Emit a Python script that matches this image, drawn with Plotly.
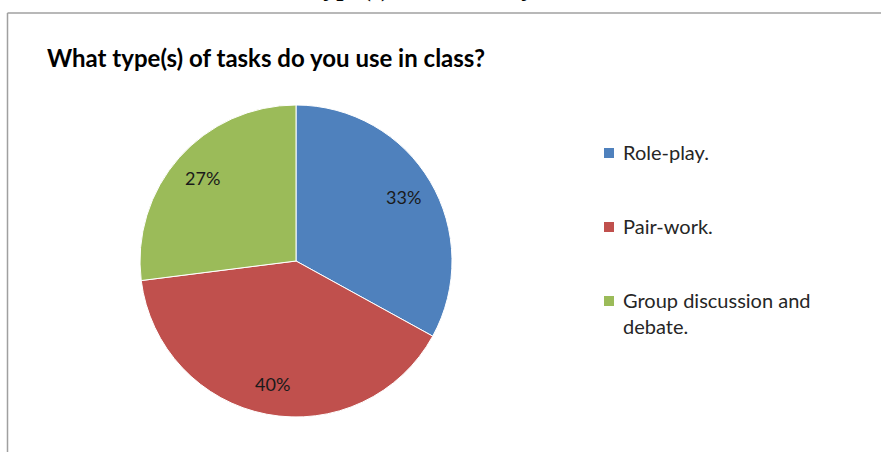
import math
import plotly.graph_objects as go

labels = ["Role-play.", "Pair-work.", "Group discussion and<br>debate."]
values = [33, 40, 27]
colors = ["#4F81BD", "#C0504D", "#9BBB59"]
title_text = "What type(s) of tasks do you use in class?"
caption_text = "What type(s) of tasks do you use in class?"

W, H = 881, 452
cx, cy, r = 296, 261, 156

fig = go.Figure()
fig.add_trace(go.Pie(
    labels=labels, values=values, sort=False, direction="clockwise", rotation=0,
    marker=dict(colors=colors, line=dict(color="white", width=1)),
    textinfo="none",
    domain=dict(x=[(cx - r) / W, (cx + r) / W], y=[(H - cy - r) / H, (H - cy + r) / H]),
    showlegend=False, hoverinfo="label+percent",
))

# data labels: placed at each slice's mid-angle, computed from the values
total = sum(values)
cum = 0
for v in values:
    mid = (cum + v / 2) / total * 2 * math.pi
    cum += v
    lx = cx + 0.8 * r * math.sin(mid)
    ly = cy - 0.8 * r * math.cos(mid)
    fig.add_annotation(text=f"{round(v / total * 100)}%", xref="paper", yref="paper",
                       x=lx / W, y=(H - ly) / H, xanchor="center", yanchor="middle",
                       showarrow=False, font=dict(family="Lato", size=18, color="#1a1a1a"))

# legend built from labels/colors
leg_y = [153, 227, 301]
for lab, col, yy in zip(labels, colors, leg_y):
    fig.add_shape(type="rect", xref="paper", yref="paper",
                  x0=604 / W, x1=614 / W, y0=(H - yy - 5) / H, y1=(H - yy + 5) / H,
                  fillcolor=col, line=dict(width=0))
    fig.add_annotation(text=lab, xref="paper", yref="paper", x=621 / W, y=(H - yy + 15) / H,
                       xanchor="left", yanchor="top", align="left", showarrow=False,
                       font=dict(family="Lato", size=20, color="#262626"))

fig.add_annotation(text="<b>" + title_text + "</b>", xref="paper", yref="paper",
                   x=45 / W, y=(H - 57) / H, xanchor="left", yanchor="middle", showarrow=False,
                   font=dict(family="Lato", size=24, color="#000000"))

fig.add_annotation(text="<b>" + caption_text + "</b>", xref="paper", yref="paper",
                   x=244 / W, y=(H - 4) / H, xanchor="left", yanchor="bottom", showarrow=False,
                   font=dict(family="Liberation Serif", size=26, color="#000000"))

# frame
fig.add_shape(type="line", xref="paper", yref="paper", x0=7.5 / W, x1=1, y0=(H - 13) / H, y1=(H - 13) / H,
              line=dict(color="#A0A0A0", width=1.5))
fig.add_shape(type="line", xref="paper", yref="paper", x0=7.5 / W, x1=7.5 / W, y0=0, y1=(H - 13) / H,
              line=dict(color="#A0A0A0", width=1.5))

fig.update_layout(width=W, height=H, margin=dict(l=0, r=0, t=0, b=0),
                  paper_bgcolor="white", plot_bgcolor="white")
fig.write_html("out.html")
